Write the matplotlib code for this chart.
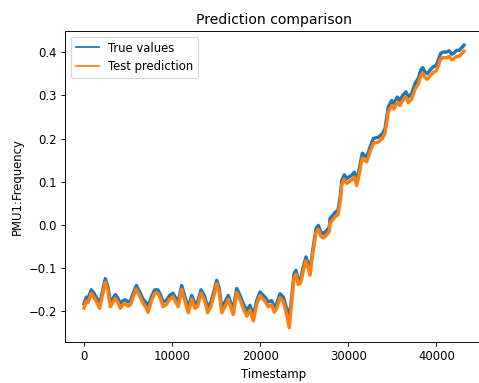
import matplotlib
matplotlib.use("Agg")
import matplotlib.pyplot as plt

# timestamps of the traced points
timestamps = [0, 261, 454, 829, 1135, 1396, 1782, 2043, 2418, 2724, 2985, 3292, 3553, 3859, 4120,
              4427, 4688, 4994, 5300, 5562, 5936, 6322, 6697, 7071, 7264, 7639, 8024, 8399, 8705,
              8967, 9341, 9727, 10102, 10476, 10703, 11089, 11464, 11838, 12224, 12599, 12905,
              13280, 13654, 14040, 14415, 14789, 15062, 15323, 15629, 16004, 16378, 16571, 16946,
              17332, 17706, 18081, 18467, 18841, 19216, 19602, 19976, 20351, 20544, 20918, 21304,
              21599, 21872, 22246, 22621, 23007, 23302, 23574, 23835, 24062, 24323, 24595, 24890,
              25197, 25458, 25651, 25957, 26332, 26593, 26865, 27160, 27546, 27841, 27921, 28150,
              28490, 28830, 29110, 29250, 29544, 29817, 30078, 30384, 30679, 30838, 30952, 31134,
              31440, 31588, 31815, 32087, 32462, 32836, 33404, 33858, 34164, 34539, 34925, 35186,
              35560, 35866, 36173, 36547, 36808, 37194, 37569, 37943, 38216, 38443, 38704, 38965,
              39271, 39646, 39952, 40213, 40485, 40780, 41166, 41461, 41734, 41995, 42301, 42597,
              42869, 43130]

true_values = [-0.182, -0.167, -0.170, -0.150, -0.158, -0.167, -0.182, -0.158, -0.124, -0.144,
               -0.178, -0.170, -0.161, -0.170, -0.182, -0.175, -0.173, -0.178, -0.175, -0.159,
               -0.140, -0.155, -0.171, -0.181, -0.190, -0.167, -0.150, -0.150, -0.163, -0.178,
               -0.175, -0.163, -0.158, -0.171, -0.178, -0.140, -0.167, -0.190, -0.163, -0.182,
               -0.178, -0.150, -0.163, -0.190, -0.178, -0.151, -0.128, -0.144, -0.190, -0.178,
               -0.163, -0.175, -0.194, -0.147, -0.163, -0.182, -0.198, -0.186, -0.209, -0.175,
               -0.155, -0.163, -0.167, -0.178, -0.175, -0.190, -0.182, -0.159, -0.167, -0.194,
               -0.213, -0.167, -0.113, -0.105, -0.128, -0.124, -0.097, -0.074, -0.090, -0.105,
               -0.059, -0.009, -0.001, -0.016, -0.020, -0.013, -0.005, 0.015, 0.020, 0.029,
               0.034, 0.069, 0.103, 0.116, 0.107, 0.111, 0.115, 0.122, 0.111, 0.103,
               0.119, 0.150, 0.166, 0.161, 0.157, 0.180, 0.200, 0.203, 0.211, 0.223,
               0.273, 0.288, 0.281, 0.296, 0.288, 0.300, 0.308, 0.296, 0.304, 0.327,
               0.339, 0.358, 0.364, 0.354, 0.350, 0.358, 0.366, 0.369, 0.381, 0.397,
               0.400, 0.400, 0.403, 0.395, 0.398, 0.404, 0.404, 0.410, 0.416]

test_prediction = [-0.192, -0.176, -0.180, -0.158, -0.167, -0.177, -0.193, -0.167, -0.132, -0.153,
                   -0.189, -0.179, -0.170, -0.179, -0.193, -0.184, -0.182, -0.188, -0.184, -0.168,
                   -0.148, -0.164, -0.181, -0.192, -0.202, -0.176, -0.158, -0.158, -0.172, -0.189,
                   -0.184, -0.172, -0.166, -0.181, -0.189, -0.149, -0.176, -0.203, -0.172, -0.193,
                   -0.188, -0.158, -0.172, -0.203, -0.188, -0.160, -0.136, -0.153, -0.203, -0.189,
                   -0.172, -0.185, -0.207, -0.156, -0.172, -0.193, -0.211, -0.197, -0.222, -0.184,
                   -0.163, -0.172, -0.176, -0.189, -0.185, -0.202, -0.193, -0.168, -0.177, -0.208,
                   -0.238, -0.178, -0.122, -0.114, -0.138, -0.134, -0.106, -0.083, -0.100, -0.116,
                   -0.068, -0.018, -0.010, -0.026, -0.030, -0.023, -0.015, 0.005, 0.010, 0.019,
                   0.024, 0.058, 0.092, 0.106, 0.096, 0.100, 0.104, 0.111, 0.099, 0.091,
                   0.108, 0.139, 0.155, 0.150, 0.146, 0.169, 0.189, 0.192, 0.200, 0.212,
                   0.261, 0.276, 0.268, 0.284, 0.276, 0.288, 0.296, 0.283, 0.291, 0.314,
                   0.326, 0.345, 0.351, 0.341, 0.337, 0.345, 0.353, 0.356, 0.368, 0.384,
                   0.387, 0.387, 0.390, 0.382, 0.385, 0.390, 0.390, 0.396, 0.402]

# reference was rendered at a smaller scale, so use a lower dpi
DPI = 84
fig = plt.figure(figsize=(479 / DPI, 383 / DPI), dpi=DPI)
# axes run slightly past the right edge, like in the reference
ax = fig.add_axes([65 / 479, 41 / 383, 418 / 479, 311 / 383])
ax.plot(timestamps, true_values, label="True values", linewidth=2.9)
ax.plot(timestamps, test_prediction, label="Test prediction", linewidth=2.9)
ax.set_title("Prediction comparison")
ax.set_xlabel("Timestamp")
ax.set_ylabel("PMU1:Frequency")
leg = ax.legend(loc="upper left")
for line in leg.get_lines():
    line.set_linewidth(1.5)

fig.savefig("out.png", dpi=DPI)
